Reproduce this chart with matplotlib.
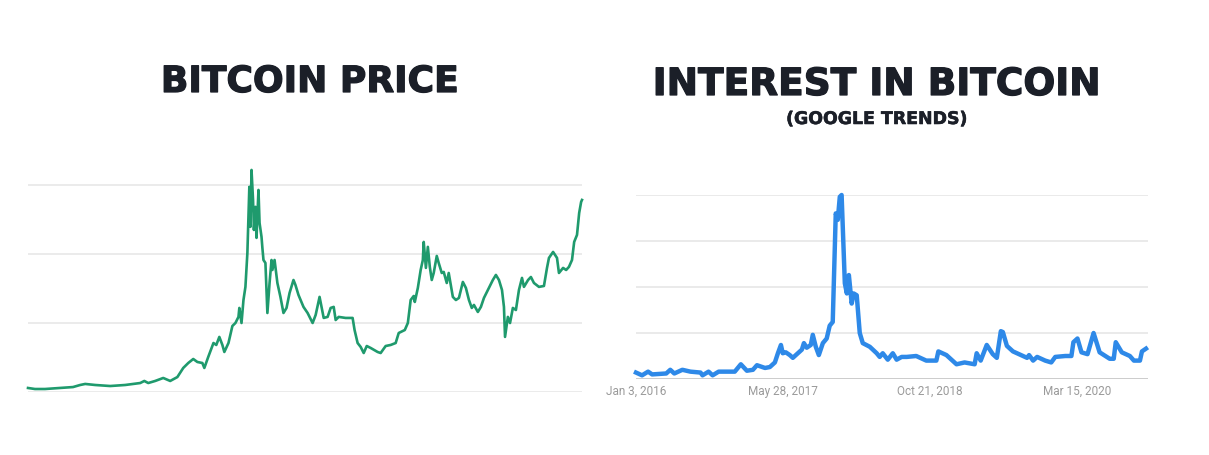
import matplotlib.pyplot as plt
import matplotlib.patheffects as pe

# Bitcoin price (USD), x in weeks since Jan 3, 2016
price_week = [0, 3.2, 7.8, 14.7, 20.7, 24.0, 26.3, 30.9, 37.8, 44.7, 51.6, 53.5, 55.3,
              58.5, 62.2, 65.4, 68.7, 71.4, 73.7, 76.0, 77.9, 80.2, 81.1, 82.9, 85.3,
              86.6, 88.0, 89.4, 90.3, 92.2, 94.0, 95.4, 96.8, 97.2, 98.2, 99.1, 100.0,
              100.9, 101.8, 102.3, 102.8, 103.5, 103.9, 104.6, 105.1, 106.0, 106.5,
              107.4, 107.8, 108.3, 109.2, 110.1, 111.1, 112.0, 112.4, 113.4, 114.7,
              116.1, 117.5, 118.9, 120.3, 122.1, 123.0, 124.4, 126.7, 128.6, 130.9,
              132.3, 134.1, 136.0, 137.8, 139.2, 140.6, 141.5, 142.9, 146.1, 149.3,
              150.2, 151.6, 153.0, 154.4, 155.8, 157.6, 160.8, 162.2, 164.5, 166.8,
              169.1, 170.5, 173.3, 174.7, 176.0, 177.4, 177.9, 179.3, 180.6, 181.6,
              182.0, 183.0, 183.9, 184.8, 185.7, 186.6, 188.0, 188.9, 190.3, 191.2,
              192.6, 193.5, 195.4, 196.8, 198.2, 200.0, 201.4, 202.8, 204.1, 205.1,
              206.9, 208.3, 209.7, 212.0, 213.8, 215.2, 216.6, 218.0, 218.9, 219.4,
              220.7, 221.7, 223.0, 224.4, 225.8, 227.2, 228.1, 230.0, 231.3, 232.7,
              235.0, 237.3, 238.7, 239.6, 241.5, 243.3, 244.2, 246.1, 247.5, 248.8,
              250.2, 251.2, 252.5, 253.5, 254.4, 254.8]
price_usd = [350, 260, 260, 350, 430, 610, 700, 610, 520, 610, 780, 960, 780,
             960, 1220, 960, 1300, 2090, 2520, 2870, 2610, 2520, 2090, 3050, 4260,
             4090, 4790, 4090, 3480, 4260, 5740, 6000, 6530, 7310, 6000, 8000, 9140,
             12090, 17840, 14360, 19310, 16700, 14090, 16100, 13400, 17570, 14700,
             13490, 12530, 11480, 11220, 6870, 9480, 11480, 10610, 11480, 9480,
             8270, 6870, 7310, 8610, 9740, 9310, 8440, 7400, 6870, 6000,
             6700, 8270, 6440, 6530, 7310, 7400, 6260, 6530, 6440, 6440,
             5390, 4260, 3920, 3390, 4000, 3830, 3480, 3390, 4000, 4090,
             4260, 5130, 5390, 6000, 8000, 8350, 7830, 9050, 10610, 11480,
             13050, 10790, 12620, 10880, 9740, 10350, 11830, 11220, 10350, 10440,
             9480, 10350, 8270, 8000, 8180, 9570, 9050, 8000, 7310, 7570,
             6960, 7400, 8180, 9050, 9740, 10180, 9740, 8870, 7400, 4790,
             6530, 6000, 7310, 7130, 8870, 9920, 9140, 9740, 10000, 9480,
             9140, 9220, 10790, 11660, 12180, 11660, 10350, 10790, 10610, 10880,
             11480, 13050, 13660, 15570, 16530, 16700]
price_grid = [0, 6000, 12000, 18000]

# Google Trends interest, x in weeks since Jan 3, 2016
trend_week = [0, 3, 6, 8, 15, 17, 19, 23, 27, 32, 33, 36, 38, 41, 49, 52, 55, 58,
              60, 64, 66.4, 68.9, 70.4, 71.9, 72.8, 74.3, 76.3, 77.8, 80.3, 82.3,
              83.3, 84.7, 86.7, 87.7, 89.2, 90.7, 92.7, 94.6, 96.1, 97.6, 99.1, 100.1,
              101.1, 102, 103.6, 104.6, 105.6, 107, 108, 109.5, 111, 112.5, 116, 119.4,
              120.9, 122.4, 124.9, 127.4, 129.3, 131.8, 134.3, 139, 144, 149, 150, 154,
              159, 163, 168, 169, 171, 174, 177, 179, 181, 182, 184, 187, 194, 195,
              197, 199, 203, 206, 208, 213, 216, 217, 219, 221, 224, 227, 230, 235,
              237, 238, 241, 245, 247, 250, 251, 253]
trend_value = [3.5, 2, 4, 2.5, 3, 5, 3, 5, 4, 3.5, 2, 4, 2, 4, 4, 8, 4.5, 5,
               7.5, 6, 6.5, 9, 14, 18.5, 14, 14.5, 13, 11.5, 14, 16,
               19.5, 17, 18.5, 24, 17.5, 13, 19.5, 22, 29, 31, 90, 86.5,
               99, 100, 52, 46.5, 56.5, 41, 46.5, 45.5, 25, 19.5, 17.5, 14,
               12, 14, 10.5, 14, 10.5, 12, 12, 12.5, 10, 10, 15, 13,
               8, 9, 8, 14, 10, 18.5, 13.5, 11.5, 26, 25.5, 18, 15, 11.5, 13,
               10, 12, 10, 9, 12, 12.5, 12.5, 20, 22, 14.5, 13.5, 25, 14.5, 11,
               11, 20, 14.5, 12.5, 10, 10, 15, 16.5]
trend_grid = [0, 25, 50, 75, 100]
tick_week = [0, 73, 146, 219]
tick_labels = ['Jan 3, 2016', 'May 28, 2017', 'Oct 21, 2018', 'Mar 15, 2020']

W, H = 1209, 455
fig = plt.figure(figsize=(W / 100, H / 100), dpi=100)
fig.patch.set_facecolor('white')

title_color = '#1b1f28'
title_font = 'DejaVu Sans'

# ---- left: bitcoin price
ax1 = fig.add_axes([28 / W, (H - 392) / H, 554 / W, 230 / H])
ax1.plot(price_week, price_usd, color='#1f9a6d', lw=1.9, clip_on=False,
         solid_joinstyle='round')
ax1.set_xlim(0, max(price_week))
ax1.set_ylim(0, 20000)
for g in price_grid:
    ax1.axhline(g, color='#e8e8e8', lw=1.2, zorder=0)
ax1.set_xticks([])
ax1.set_yticks([])
for s in ax1.spines.values():
    s.set_visible(False)

# ---- right: google trends
ax2 = fig.add_axes([636 / W, (H - 379) / H, 512 / W, 184 / H])
ax2.plot(trend_week, trend_value, color='#2e89e8', lw=3.2, clip_on=False,
         solid_joinstyle='round')
ax2.set_xlim(0, 254)
ax2.set_ylim(0, 100)
for g in trend_grid[1:]:
    ax2.axhline(g, color='#e6e6e6', lw=1.2, zorder=0)
ax2.axhline(0, color='#c8c8c8', lw=1.3, zorder=0)
ax2.set_yticks([])
ax2.set_xticks(tick_week)
ax2.set_xticklabels(tick_labels, fontsize=8.5, color='#9a9a9a', family='Roboto')
ax2.tick_params(axis='x', length=0, pad=4)
for s in ax2.spines.values():
    s.set_visible(False)

# ---- titles (stroke to make them look heavier)
heavy = [pe.withStroke(linewidth=0.9, foreground=title_color)]
heavy_small = [pe.withStroke(linewidth=0.4, foreground=title_color)]
fig.text(310 / W, (H - 92) / H, 'BITCOIN PRICE', ha='center', va='baseline',
         fontsize=26, fontweight='bold', family=title_font, color=title_color,
         path_effects=heavy)
fig.text(877 / W, (H - 95) / H, 'INTEREST IN BITCOIN', ha='center', va='baseline',
         fontsize=27, fontweight='bold', family=title_font, color=title_color,
         path_effects=heavy)
fig.text(877 / W, (H - 124) / H, '(GOOGLE TRENDS)', ha='center', va='baseline',
         fontsize=12.5, fontweight='bold', family=title_font, color=title_color,
         path_effects=heavy_small)

fig.savefig('out.png', dpi=100, facecolor='white')
